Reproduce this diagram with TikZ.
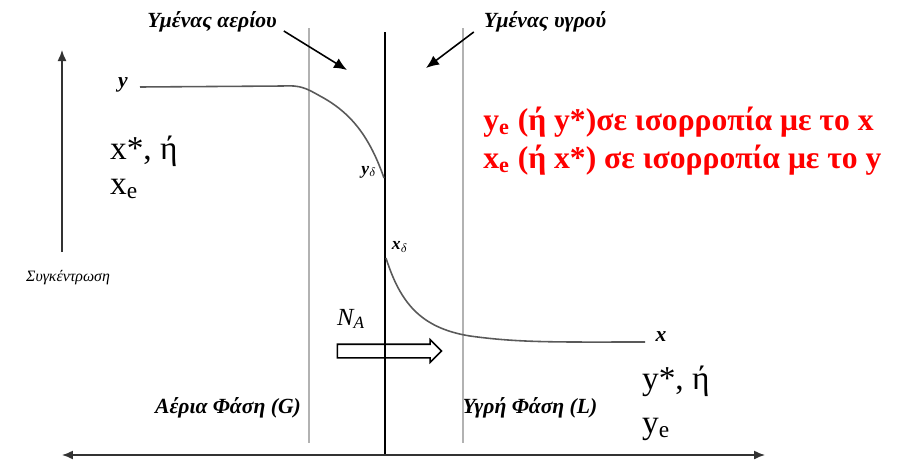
\documentclass[tikz,border=0pt]{standalone}
\usepackage{fontspec}
\setmainfont{Liberation Serif}
\usetikzlibrary{arrows.meta,positioning,shapes.arrows}
\tikzset{
  film/.style={draw=gray!60, line width=0.6pt},
  wall/.style={draw=black, line width=1.4pt},
  profile/.style={draw=black!65, line width=0.9pt},
  pointer/.style={-{Latex[length=2.6mm,width=2.2mm]}, line width=0.9pt},
  axis/.style={-{Latex[length=2.2mm,width=1.8mm]}, line width=0.8pt, draw=black!80},
  lbl/.style={font=\bfseries\itshape\fontsize{12.3}{12}\selectfont, inner sep=1pt},
  small/.style={font=\itshape\fontsize{9}{9}\selectfont, inner sep=1pt},
  sym/.style={font=\fontsize{19}{19}\selectfont, inner sep=1pt, anchor=west},
  note/.style={font=\bfseries\fontsize{18}{21.6}\selectfont, text=red, align=left, inner sep=0pt, anchor=west},
  flux/.style={single arrow, draw, line width=0.9pt, inner xsep=0pt, inner ysep=0.12cm, minimum height=2.08cm, single arrow head extend=0.09cm}
}
\begin{document}
\begin{tikzpicture}[x=0.02cm,y=-0.02cm]
  \useasboundingbox (0,0) rectangle (906,460);
  \coordinate (cb) at (62,252);
  \coordinate (ct) at (62,50);
  \coordinate (gt) at (309,28);
  \coordinate (gb) at (309,443);
  \coordinate (lt) at (463,28);
  \coordinate (lb) at (463,443);
  \coordinate (wt) at (385,32);
  \coordinate (wb) at (385,455);
  \coordinate (al) at (62,455);
  \coordinate (ar) at (765,455);
  \coordinate (gp) at (347,70);
  \coordinate (lp) at (426,68);
  \coordinate (ys) at (140,87);
  \coordinate (yd) at (384,178);
  \coordinate (xd) at (386,258);
  \coordinate (xe) at (645,342);

  \node[small] (conc) at (68,278) {Συγκέντρωση};
  \node[lbl] (ylab) at (123,85) {y};
  \node[sym] (xstar) at (108,151) {x*, ή};
  \node[sym] (xeq) at (108,189) {x\textsubscript{e}};
  \node[lbl] (gfilm) at (212,22) {Υμένας αερίου};
  \node[lbl] (lfilm) at (545,22) {Υμένας υγρού};
  \node[note] (eq) at (483,141) {y\textsubscript{e} (ή y*)σε ισορροπία με το x\\x\textsubscript{e} (ή x*) σε ισορροπία με το y};
  \node[lbl, font=\bfseries\itshape\fontsize{10}{10}\selectfont] (ydl) at (369,172) {y$_\delta$};
  \node[lbl, font=\bfseries\itshape\fontsize{10}{10}\selectfont] (xdl) at (400,247) {x$_\delta$};
  \node[lbl] (xlab) at (661,337) {x};
  \node[font=\itshape\fontsize{14}{14}\selectfont] (na) at (351,319) {N\textsubscript{A}};
  \node[flux] (arr) at (386,351) {};
  \node[lbl] (gphase) at (228,408) {Αέρια Φάση (G)};
  \node[lbl] (lphase) at (530,408) {Υγρή Φάση (L)};
  \node[sym] (ystar) at (640,381) {y*, ή};
  \node[sym] (yeq) at (640,429) {y\textsubscript{e}};

  \draw[axis] (cb) -- (ct);
  \draw[film] (gt) -- (gb);
  \draw[film] (lt) -- (lb);
  \draw[wall] (wt) -- (wb);
  \draw[axis, {Latex[length=2.2mm,width=1.8mm]}-{Latex[length=2.2mm,width=1.8mm]}] (al) -- (ar);
  \draw[pointer] (gfilm.east) ++(5,9) -- (gp);
  \draw[pointer] (lfilm.west) ++(-8,10) -- (lp);
  \draw[profile] (ys) -- (283,86) .. controls (300,85) and (306,88) .. (320,96)
    .. controls (352,113) and (370,138) .. (yd);
  \draw[profile] (xd) .. controls (400,302) and (420,328) .. (470,336)
    .. controls (520,343) and (560,342) .. (xe);
\end{tikzpicture}
\end{document}
